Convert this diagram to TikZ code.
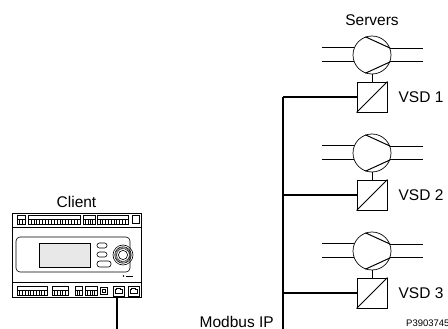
\documentclass[tikz,border=0pt]{standalone}
\usepackage{fontspec}
\setmainfont{Liberation Sans}
\usetikzlibrary{positioning}

\tikzset{
  lbl/.style={font=\fontsize{15.5}{18}\selectfont, inner sep=0pt},
  vsdbox/.style={draw, line width=0.9pt, minimum size=30pt, inner sep=0pt},
  comp/.style={draw, circle, line width=0.7pt, minimum size=38pt, inner sep=0pt},
  pipe/.style={line width=1.1pt},
  bus/.style={line width=1.1pt},
  term/.style={line width=0.5pt},
}

% terminal block: x1, x2, top, bottom
\newcommand{\termblock}[4]{%
  \draw[term] (#1,#3) rectangle (#2,#4);
  \pgfmathsetmacro{\ymid}{#3+(#4-#3)*0.45}
  \draw[term] (#1,\ymid) -- (#2,\ymid);
  \pgfmathtruncatemacro{\nt}{(#2-#1)/3}
  \foreach \k in {1,...,\nt}
    \draw[term] ({#1+\k*(#2-#1)/(\nt+1)},\ymid) -- ({#1+\k*(#2-#1)/(\nt+1)},#4);
}
% network socket: x1, x2
\newcommand{\rjport}[2]{%
  \draw[term] (#1,286) rectangle (#2,296);
  \draw[term] (#1+2,293.5) -- (#1+2,289) -- (#1+3.5,289) -- (#1+3.5,287.8)
    -- (#2-3.5,287.8) -- (#2-3.5,289) -- (#2-2,289) -- (#2-2,293.5) -- cycle;
}

\begin{document}
\begin{tikzpicture}[x=1pt, y=-1pt]
  \useasboundingbox (0,0) rectangle (448,329);

  % client controller
  \node[draw, line width=0.9pt, minimum width=129pt, minimum height=84pt, inner sep=0pt] (client) at (76.5,255) {};
  \node[lbl, above=5pt of client] (clientlbl) {Client};
  \draw[line width=0.6pt] (12,227) -- (141,227);
  \draw[line width=0.6pt] (12,282) -- (141,282);
  % top terminals
  \termblock{17}{25}{215}{224}
  \termblock{28}{80}{215}{224}
  \termblock{83}{95}{215}{224}
  \termblock{97}{128}{215}{224}
  \draw[term] (132,215.5) rectangle (139,223.5);
  % bottom terminals
  \termblock{17}{47}{286}{295}
  \termblock{52}{68}{286}{295}
  \termblock{75}{82}{286}{295}
  \termblock{85}{97}{286}{295}
  \draw[term] (100,287) rectangle (107,294);
  \draw[term] (101.8,288.8) rectangle (105.2,292.2);
  \rjport{113}{124}
  \rjport{128}{139}
  % front panel
  \draw[line width=0.6pt, rounded corners=4pt] (16,237) rectangle (130,272);
  \node[draw, line width=0.6pt, fill=gray!18, minimum width=51pt, minimum height=24pt, inner sep=0pt] (screen) at (64.5,255) {};
  \draw[line width=0.6pt, rounded corners=2.4pt] (97,243) rectangle (107,248);
  \draw[line width=0.6pt, rounded corners=2.4pt] (97,252) rectangle (107,257);
  \draw[line width=0.6pt, rounded corners=2.6pt] (97,261) rectangle (111,267);
  \node[draw, circle, line width=0.6pt, minimum size=20pt, inner sep=0pt] (knob) at (123,255) {};
  \draw[line width=1.6pt, dash pattern=on 0.5pt off 0.7pt] (knob) circle (6.8pt);
  \draw[line width=0.6pt] (knob) circle (8.2pt);
  \draw[line width=0.6pt] (knob) circle (4.6pt);
  \fill (123.5,276) circle (0.9pt);
  \draw[line width=0.9pt] (126,276) -- (133,276);

  % bus
  \coordinate (busend) at (283,329);
  \coordinate (plug) at (117,296);
  \draw[bus] (plug) -- (plug |- busend);
  \node[lbl, anchor=east] (modbus) at (274,321.5) {Modbus IP};

  % servers: compressor driven by a VSD
  \foreach \i/\y in {1/97,2/195,3/293} {
    \node[vsdbox] (vsd\i) at (372,\y) {};
    \draw[line width=0.9pt] (vsd\i.south west) -- (vsd\i.north east);
    \node[lbl, right=11pt of vsd\i] (vsdlbl\i) {VSD \i};
    \node[comp] (comp\i) at (372,\y-42) {};
    \draw[line width=0.9pt] (comp\i) -- (vsd\i);
    \draw[line width=1pt] (comp\i.110) -- (comp\i.21.6);
    \draw[line width=1pt] (comp\i.-110) -- (comp\i.-21.6);
    \draw[pipe] (comp\i.158.4) -- ++(-32,0);
    \draw[pipe] (comp\i.201.6) -- ++(-32,0);
    \draw[pipe] (comp\i.21.6) -- ++(33,0);
    \draw[pipe] (comp\i.-21.6) -- ++(33,0);
    \coordinate (bus\i) at (283,\y);
    \draw[bus] (bus\i) -- (vsd\i);
  }
  \draw[bus] (bus1) -- (busend);
  \node[lbl, above=9.5pt of comp1] (servers) {Servers};

  \node[font=\fontsize{9.5}{11}\selectfont, anchor=west, inner sep=0pt] (drawno) at (406,323) {P3903745};
\end{tikzpicture}
\end{document}
